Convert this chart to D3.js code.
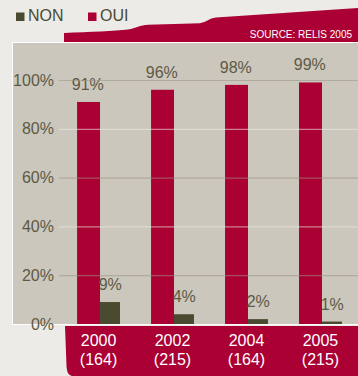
<!DOCTYPE html>
<html>
<head>
<meta charset="utf-8">
<script src="https://cdn.jsdelivr.net/npm/d3@7"></script>
<style>
  body { margin: 0; background: #edebe7; }
  svg { display: block; font-family: "Liberation Sans", Arial, sans-serif; }
</style>
</head>
<body>
<div id="chart"></div>
<script>
// chart data
const years = ["2000", "2002", "2004", "2005"];
const counts = ["(164)", "(215)", "(164)", "(215)"];
const oui = [91, 96, 98, 99];
const non = [9, 4, 2, 1];
const series = ["OUI", "NON"];
const yTicks = [0, 20, 40, 60, 80, 100];

const width = 358, height = 376;
const red = "#ab0033", olive = "#4a4a30", textCol = "#5b5a45";

const svg = d3.select("#chart")
  .append("svg")
  .attr("width", width)
  .attr("height", height)
  .style("background", "#edebe7");

// plot panel
svg.append("rect")
  .attr("x", 12.5).attr("y", 42.5)
  .attr("width", 360).attr("height", 282)
  .attr("fill", "#cbc7bc")
  .attr("stroke", "#ffffff")
  .attr("stroke-width", 1);

// red header wave
svg.append("path")
  .attr("d", "M64,42 L64,33 C90,32 115,31 128,29.5 C136,28 140,25 148,24.7 L200,23.3 C207,22 209,18.5 216,17.6 L358,8 L358,42 Z")
  .attr("fill", red);

svg.append("text")
  .attr("x", 352).attr("y", 37.5)
  .attr("text-anchor", "end")
  .attr("fill", "#ffffff")
  .style("font-size", "10px")
  .text("SOURCE: RELIS 2005");

// legend
const legend = svg.append("g");
[["NON", olive, 16], ["OUI", red, 88]].forEach(d => {
  legend.append("rect")
    .attr("x", d[2]).attr("y", 12.5)
    .attr("width", 8.5).attr("height", 8.5)
    .attr("fill", d[1]);
  legend.append("text")
    .attr("x", d[2] + 12).attr("y", 21)
    .attr("fill", olive)
    .style("font-size", "16px")
    .text(d[0]);
});

// scales
const x = d3.scaleBand()
  .domain(years)
  .range([46, 373])
  .padding(0.42);

const xSub = d3.scaleBand()
  .domain(series)
  .range([0, x.bandwidth()]);

const y = d3.scaleLinear()
  .domain([0, 100])
  .range([324, 80]);

const rows = years.map((yr, i) => ({year: yr, n: counts[i], OUI: oui[i], NON: non[i]}));

// bottom red band for categories
svg.append("path")
  .attr("d", "M65,326 L358,326 L358,376 L72,376 C68,375 67,372 66.5,366 Z")
  .attr("fill", red);

// bars
const groups = svg.append("g")
  .selectAll("g")
  .data(rows)
  .join("g")
  .attr("transform", d => `translate(${x(d.year)},0)`);

groups.selectAll("rect")
  .data(d => series.map(k => ({key: k, value: d[k]})))
  .join("rect")
  .attr("x", d => xSub(d.key) + (d.key == "NON" ? 1.5 : 0))
  .attr("width", d => xSub.bandwidth() + (d.key == "OUI" ? 1.5 : -1.5))
  .attr("y", d => y(d.value))
  .attr("height", d => y(0) - y(d.value))
  .attr("fill", d => d.key == "OUI" ? red : olive);

// gridlines drawn over the bars, alternating tone
svg.append("g")
  .selectAll("line")
  .data(yTicks.filter(t => t > 0))
  .join("line")
  .attr("x1", 59).attr("x2", width)
  .attr("y1", d => y(d) + 0.5).attr("y2", d => y(d) + 0.5)
  .attr("stroke", d => (d / 20) % 2 == 1 ? "#9c9285" : "#ece9e3")
  .attr("stroke-opacity", 0.55)
  .attr("stroke-width", 1.2);

// value labels
groups.selectAll("text.val")
  .data(d => series.map(k => ({key: k, value: d[k]})))
  .join("text")
  .attr("class", "val")
  .attr("x", d => xSub(d.key) + xSub.bandwidth() / 2 + (d.key == "NON" ? 1 : 0))
  .attr("y", d => y(d.value) - 12)
  .attr("text-anchor", "middle")
  .attr("fill", textCol)
  .style("font-size", "16px")
  .text(d => d.value + "%");

// y axis labels
const yAxis = d3.axisLeft(y)
  .tickValues(yTicks)
  .tickFormat(d => d + "%")
  .tickSize(0)
  .tickPadding(0);

const ya = svg.append("g")
  .attr("transform", "translate(54,0)")
  .call(yAxis);
ya.select(".domain").remove();
ya.selectAll("text")
  .attr("fill", textCol)
  .style("font-size", "16px")
  .style("font-family", "'Liberation Sans', Arial, sans-serif");

// category labels
const cat = svg.append("g")
  .selectAll("g")
  .data(rows)
  .join("g")
  .attr("transform", d => `translate(${x(d.year) + x.bandwidth() / 2},0)`);

cat.append("text")
  .attr("y", 345.5)
  .attr("text-anchor", "middle")
  .attr("fill", "#ffffff")
  .style("font-size", "16px")
  .text(d => d.year);

cat.append("text")
  .attr("y", 364.5)
  .attr("text-anchor", "middle")
  .attr("fill", "#ffffff")
  .style("font-size", "16px")
  .text(d => d.n);
</script>
</body>
</html>
